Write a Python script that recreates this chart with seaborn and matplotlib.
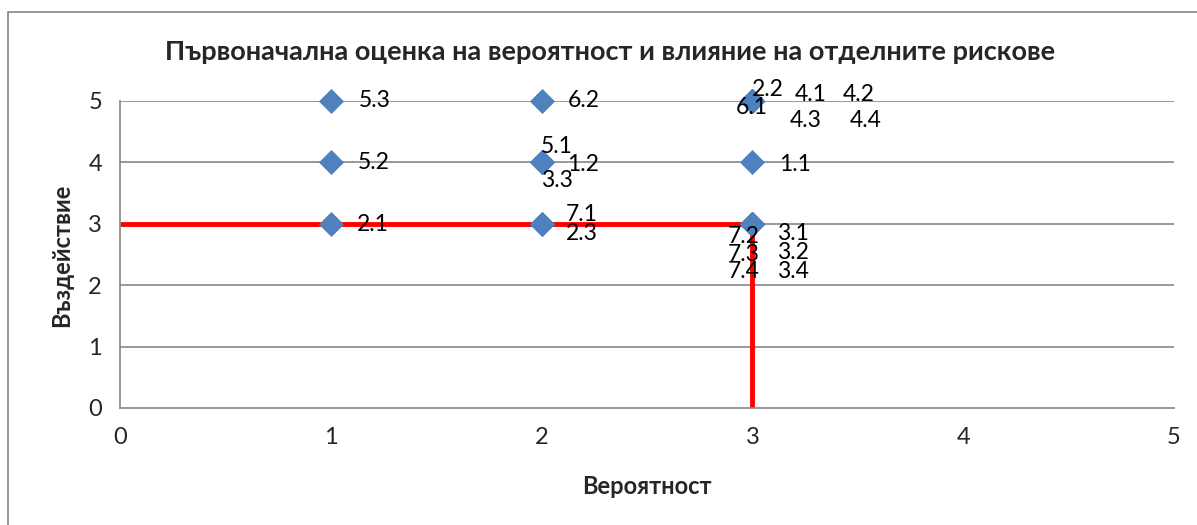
import matplotlib
matplotlib.use("Agg")
import matplotlib.pyplot as plt
import seaborn as sns
import pandas as pd

# Risk ids with probability / impact scores
risks = ["1.1", "1.2", "2.1", "2.2", "2.3", "3.1", "3.2", "3.3", "3.4", "4.1", "4.2",
         "4.3", "4.4", "5.1", "5.2", "5.3", "6.1", "6.2", "7.1", "7.2", "7.3", "7.4"]
probability = [3, 2, 1, 3, 2, 3, 3, 2, 3, 3, 3, 3, 3, 2, 1, 1, 3, 2, 2, 3, 3, 3]
impact = [4, 4, 3, 5, 3, 3, 3, 4, 3, 5, 5, 5, 5, 4, 4, 5, 5, 5, 3, 3, 3, 3]

# threshold lines (probability 3, impact 3)
thr_prob = 3
thr_imp = 3

title = "Първоначална оценка на вероятност и влияние на отделните рискове"
xlabel = "Вероятност"
ylabel = "Въздействие"

# label placement in pixels (dx, dy) relative to the marker, like Excel did it
label_off = {
    "5.3": (44, 0), "6.2": (42, 0), "5.2": (43, 0), "5.1": (15, 16), "1.2": (41, -2),
    "3.3": (15, -18), "1.1": (43, -2), "2.1": (42, -1), "7.1": (40, 9), "2.3": (40, -10),
    "2.2": (15, 11), "6.1": (-1, -7), "4.1": (58, 6), "4.2": (106, 6), "4.3": (53, -20),
    "4.4": (113, -20), "7.2": (-9, -13), "3.1": (41, -10), "7.3": (-9, -31),
    "3.2": (41, -29), "7.4": (-9, -48), "3.4": (41, -48),
}

df = pd.DataFrame({"risk": risks, "prob": probability, "imp": impact})

sns.set_style("white")
plt.rcParams["font.family"] = ["Lato", "DejaVu Sans"]

fig = plt.figure(figsize=(11.97, 5.25), dpi=100)
ax = fig.add_axes([120 / 1197, 1 - 408 / 525, (1174 - 120) / 1197, (408 - 101) / 525])

# chart border (only top/left visible in original)
fig.add_artist(plt.Rectangle((8 / 1197, -0.1), 1.2, 1 - 12 / 525 + 0.1,
                             transform=fig.transFigure, fill=False,
                             edgecolor="#868686", linewidth=1.2))

for y in range(1, 6):
    ax.axhline(y, color="#868686", linewidth=1.2, zorder=1)

ax.plot([0, thr_prob], [thr_imp, thr_imp], color="#ff0000", linewidth=3.5, zorder=2,
        solid_capstyle="butt")
ax.plot([thr_prob, thr_prob], [0, thr_imp], color="#ff0000", linewidth=3.5, zorder=2,
        solid_capstyle="butt")

sns.scatterplot(data=df, x="prob", y="imp", ax=ax, marker="D", s=150,
                color="#4f81bd", edgecolor="#4a7ebb", linewidth=0.5, zorder=3,
                legend=False, clip_on=False)

for r, px, py in zip(risks, probability, impact):
    dx, dy = label_off[r]
    ax.annotate(r, (px, py), xytext=(dx, dy), textcoords="offset pixels",
                ha="center", va="center", fontsize=16.5, color="black", zorder=4)

ax.set_xlim(0, 5)
ax.set_ylim(0, 5)
ax.set_xticks(range(0, 6))
ax.set_yticks(range(0, 6))
ax.set_xlabel("")
ax.set_ylabel("")
ax.tick_params(axis="both", labelsize=17, length=5, width=1.2, color="#868686",
               direction="out", pad=8)
ax.tick_params(axis="x", pad=9)
for s in ["top", "right"]:
    ax.spines[s].set_visible(False)
for s in ["left", "bottom"]:
    ax.spines[s].set_color("#868686")
    ax.spines[s].set_linewidth(1.2)

fig.text(610 / 1197, 1 - 52 / 525, title, ha="center", va="center",
         fontsize=19.5, fontweight="bold")
fig.text(647 / 1197, 1 - 486 / 525, xlabel, ha="center", va="center",
         fontsize=17, fontweight="bold")
fig.text(62 / 1197, 1 - 255 / 525, ylabel, ha="center", va="center",
         fontsize=17, fontweight="bold", rotation=90)

fig.savefig("out.png", dpi=100)
